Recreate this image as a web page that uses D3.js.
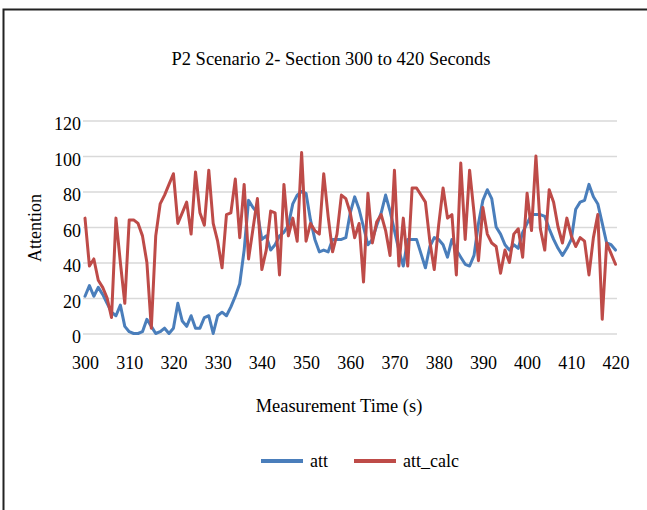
<!DOCTYPE html>
<html>
<head>
<meta charset="utf-8">
<script src="https://cdn.jsdelivr.net/npm/d3@7"></script>
<style>
  html, body { margin: 0; padding: 0; background: #fff; }
  svg { display: block; }
  text { font-family: "Liberation Serif", "Times New Roman", serif; fill: #000; }
</style>
</head>
<body>
<svg id="chart" width="647" height="510"></svg>
<script>
// seconds 300..420, one sample per second
const START_T = 300;
const att = [
  21, 27, 21, 26, 22, 17, 12, 10, 16, 4,
  1, 0, 0, 1, 8, 4, 0, 1, 3, 0,
  3, 17, 7, 4, 10, 3, 3, 9, 10, 0,
  10, 12, 10, 15, 21, 28, 47, 75, 71, 68,
  53, 55, 47, 50, 55, 57, 61, 73, 78, 80,
  79, 64, 53, 46, 47, 46, 53, 53, 53, 54,
  68, 77, 70, 60, 50, 53, 61, 68, 78, 69,
  58, 47, 38, 53, 53, 53, 45, 37, 49, 54,
  53, 50, 43, 53, 47, 43, 39, 38, 44, 62,
  75, 81, 76, 60, 56, 50, 47, 50, 48, 57,
  62, 67, 67, 67, 66, 59, 53, 48, 44, 48,
  53, 70, 74, 75, 84, 77, 73, 62, 51, 50,
  47
];
const attCalc = [
  65, 38, 42, 30, 26, 20, 9, 65, 40, 17,
  64, 64, 62, 55, 40, 3, 55, 73, 78, 84,
  90, 62, 68, 74, 56, 91, 68, 61, 92, 62,
  52, 37, 67, 68, 87, 54, 84, 42, 59, 76,
  36, 47, 69, 68, 33, 84, 55, 65, 52, 102,
  52, 62, 58, 56, 90, 66, 46, 56, 78, 76,
  68, 54, 62, 29, 79, 51, 63, 67, 58, 44,
  92, 38, 65, 38, 82, 82, 78, 74, 52, 36,
  61, 82, 65, 67, 33, 96, 53, 92, 68, 41,
  71, 56, 51, 49, 34, 47, 40, 56, 59, 43,
  79, 58, 100, 59, 47, 81, 74, 60, 51, 65,
  55, 49, 54, 52, 33, 54, 67, 8, 51, 45,
  39
];
const xTicks = [300, 310, 320, 330, 340, 350, 360, 370, 380, 390, 400, 410, 420];
const yTicks = [0, 20, 40, 60, 80, 100, 120];
const seriesNames = ["att", "att_calc"];
const seriesColors = ["#4a7ebb", "#be4b48"];

const svg = d3.select("#chart");

// outer frame (top + left edge only visible)
svg.append("path")
  .attr("d", "M3.5,510V9.5H647")
  .attr("fill", "none")
  .attr("stroke", "#222")
  .attr("stroke-width", 2);

const plotL = 83, plotR = 617;
const x = d3.scaleLinear().domain([300, 420]).range([85, 615.5]);
const y = d3.scaleLinear().domain([0, 120]).range([333.5, 120.5]);

// gridlines + y labels
const yAxis = svg.append("g")
  .attr("transform", `translate(${plotL},0)`)
  .call(d3.axisLeft(y).tickValues(yTicks).tickSize(-(plotR - plotL)).tickPadding(2));
yAxis.select(".domain").remove();
yAxis.selectAll(".tick line").attr("stroke", "#d9d9d9").attr("stroke-width", 1.5);
yAxis.selectAll(".tick text")
  .attr("font-size", 18).attr("dy", "0.5em")
  .style("font-family", '"Liberation Serif", serif').attr("fill", "#000");

// x labels
const xAxis = svg.append("g")
  .attr("transform", "translate(0,356)")
  .call(d3.axisBottom(x).tickValues(xTicks).tickSize(0).tickPadding(0));
xAxis.select(".domain").remove();
xAxis.selectAll(".tick text")
  .attr("font-size", 18).attr("dy", "0.71em")
  .style("font-family", '"Liberation Serif", serif').attr("fill", "#000");

// lines
const line = d3.line()
  .x((d, i) => x(START_T + i))
  .y(d => y(d));

[att, attCalc].forEach((vals, k) => {
  svg.append("path")
    .datum(vals)
    .attr("d", line)
    .attr("fill", "none")
    .attr("stroke", seriesColors[k])
    .attr("stroke-width", 3)
    .attr("stroke-linejoin", "round")
    .attr("stroke-linecap", "round");
});

// titles
svg.append("text")
  .attr("x", 331).attr("y", 65)
  .attr("text-anchor", "middle")
  .attr("font-size", 18.5)
  .text("P2 Scenario 2- Section 300 to 420 Seconds");

svg.append("text")
  .attr("x", 339).attr("y", 412)
  .attr("text-anchor", "middle")
  .attr("font-size", 18.4)
  .text("Measurement Time (s)");

svg.append("text")
  .attr("transform", "translate(41,228) rotate(-90)")
  .attr("text-anchor", "middle")
  .attr("font-size", 18)
  .text("Attention");

// legend
const legendX = [261, 354];
seriesNames.forEach((name, k) => {
  const g = svg.append("g").attr("transform", `translate(${legendX[k]},461)`);
  g.append("line")
    .attr("x1", 0).attr("x2", 42)
    .attr("stroke", seriesColors[k])
    .attr("stroke-width", 4);
  g.append("text")
    .attr("x", 49).attr("y", 6)
    .attr("font-size", 18)
    .text(name);
});
</script>
</body>
</html>
